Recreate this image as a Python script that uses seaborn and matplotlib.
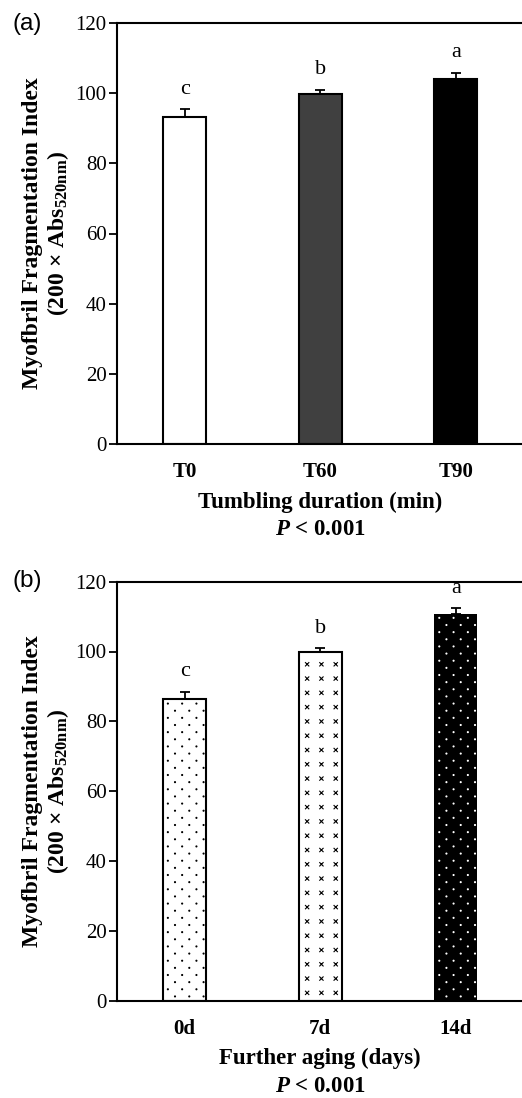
import warnings
import numpy as np
import pandas as pd
import matplotlib
matplotlib.use("Agg")
import matplotlib.pyplot as plt
import matplotlib.hatch as mhatch
from matplotlib.path import Path
import seaborn as sns

warnings.filterwarnings("ignore")

# ---------------- data ----------------
cats_a = ["T0", "T60", "T90"]
mfi_a = [93.1, 99.8, 104.0]
err_a = [2.3, 1.2, 1.8]
letters_a = ["c", "b", "a"]

cats_b = ["0d", "7d", "14d"]
mfi_b = [86.3, 99.9, 110.7]
err_b = [2.2, 1.1, 1.7]
letters_b = ["c", "b", "a"]

yticks = [0, 20, 40, 60, 80, 100, 120]

# ---------------- custom hatches (fine dots 'd', small x marks 'k') ----------------
mhatch._validate_hatch_pattern = lambda h: None


class _MarkGrid(mhatch.HatchPatternBase):
    def __init__(self, hatch, density):
        self.parts = []
        if "d" in hatch:
            circ = Path.unit_circle()
            verts = circ.vertices * 0.005
            codes = circ.codes
            ncol, nrow = 7, 14
            for j in range(nrow):
                y = (j + 0.5) / nrow
                sh = 0.25 if j % 2 == 0 else 0.75
                for i in range(ncol):
                    x = (i + sh) / ncol
                    self.parts.append((verts + [x, y], codes))
        if "k" in hatch:
            h = 0.017
            verts = np.array([[-h, -h], [h, h], [-h, h], [h, -h]])
            codes = np.array([Path.MOVETO, Path.LINETO, Path.MOVETO, Path.LINETO],
                             dtype=Path.code_type)
            n = 7
            for j in range(n):
                for i in range(n):
                    self.parts.append((verts + [(i + 0.5) / n, (j + 0.5) / n], codes))
        self.num_vertices = sum(len(v) for v, c in self.parts)

    def set_vertices_and_codes(self, vertices, codes):
        vertices[:] = np.concatenate([v for v, c in self.parts])
        codes[:] = np.concatenate([c for v, c in self.parts])


mhatch._hatch_types.append(_MarkGrid)

# ---------------- style ----------------
plt.rcParams["font.family"] = ["Liberation Serif", "DejaVu Serif"]
plt.rcParams["mathtext.fontset"] = "custom"
plt.rcParams["mathtext.rm"] = "Liberation Serif"
plt.rcParams["mathtext.bf"] = "Liberation Serif:bold"
plt.rcParams["mathtext.it"] = "Liberation Serif:italic:bold"
plt.rcParams["hatch.linewidth"] = 0.8

fig = plt.figure(figsize=(5.22, 10.98), dpi=100)
ax_a = fig.add_axes([117 / 522, 1 - 444 / 1098, 406.5 / 522, 421 / 1098])
ax_b = fig.add_axes([117 / 522, 1 - 1000.5 / 1098, 406.5 / 522, 418.8 / 1098])

styles_a = [dict(fc="white", ec="black", lw=1.5, hatch=None),
            dict(fc="#404040", ec="black", lw=1.5, hatch=None),
            dict(fc="black", ec="black", lw=1.5, hatch=None)]
styles_b = [dict(fc="white", ec="black", lw=1.5, hatch="d"),
            dict(fc="white", ec="black", lw=1.5, hatch="k"),
            dict(fc="black", ec="white", lw=0, hatch="d")]


def panel(ax, cats, vals, errs, letters, styles, xlabel, tag, tag_y):
    df = pd.DataFrame({"cat": cats, "val": vals})
    sns.barplot(data=df, x="cat", y="val", ax=ax, width=0.32, color="white",
                errorbar=None, zorder=2)
    for bar, st in zip(ax.containers[0], styles):
        bar.set_facecolor(st["fc"])
        bar.set_edgecolor(st["ec"])
        bar.set_linewidth(st["lw"])
        if st["hatch"]:
            bar.set_hatch(st["hatch"])
    pos = np.arange(len(cats))
    ax.errorbar(pos, vals, yerr=[np.zeros(len(vals)), errs], fmt="none",
                ecolor="black", elinewidth=1.3, capsize=3.3, capthick=1.3, zorder=3)
    for p, v, e, l in zip(pos, vals, errs, letters):
        ax.text(p, v + e + 4.4, l, ha="center", va="baseline", fontsize=16)
    ax.set_xlim(-0.5, 2.5)
    ax.set_ylim(0, 120)
    ax.set_yticks(yticks)
    ax.set_yticklabels([str(t) for t in yticks])
    for s in ["top", "left", "bottom"]:
        ax.spines[s].set_linewidth(1.5)
        ax.spines[s].set_color("black")
    ax.spines["right"].set_visible(False)
    ax.tick_params(axis="y", direction="out", length=5.5, width=1.3, labelsize=15,
                   pad=2, colors="black")
    ax.tick_params(axis="x", length=0, pad=13, labelsize=15, colors="black")
    for t in ax.get_xticklabels():
        t.set_fontweight("bold")
    ax.set_ylabel("Myofbril Fragmentation Index\n(200 × Abs$_{\\mathbf{520nm}}$)",
                  fontsize=17, fontweight="bold", labelpad=3, linespacing=1.15)
    ax.set_xlabel(xlabel + "\n$P$ < 0.001", fontsize=16.5, fontweight="bold",
                  labelpad=7, linespacing=1.4)
    fig.text(12 / 522, tag_y, tag, family="Liberation Sans", fontsize=17.5,
             ha="left", va="center")


panel(ax_a, cats_a, mfi_a, err_a, letters_a, styles_a,
      "Tumbling duration (min)", "(a)", 1 - 24 / 1098)
panel(ax_b, cats_b, mfi_b, err_b, letters_b, styles_b,
      "Further aging (days)", "(b)", 1 - 581 / 1098)

fig.savefig("out.png", dpi=100)
